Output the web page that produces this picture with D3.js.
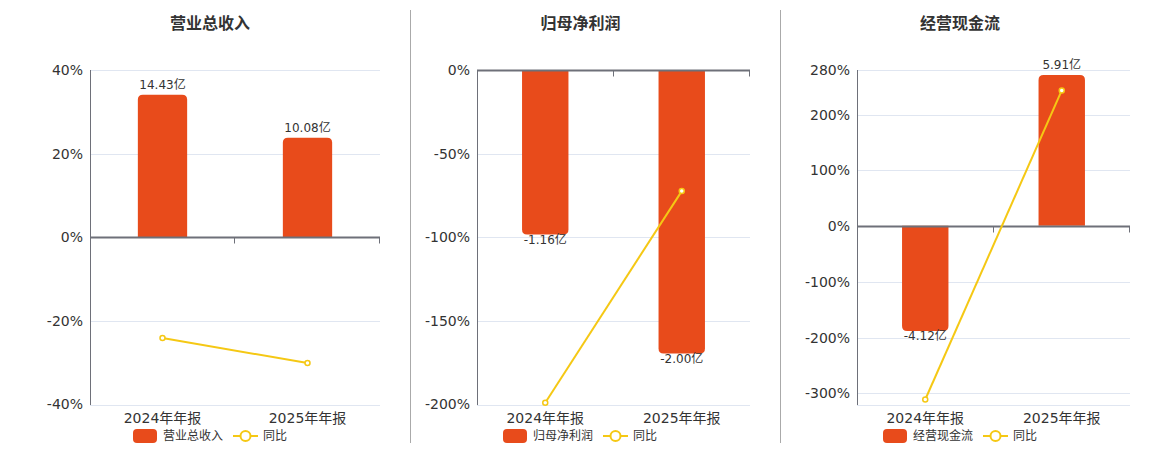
<!DOCTYPE html>
<html>
<head>
<meta charset="utf-8">
<script src="https://cdn.jsdelivr.net/npm/d3@7/dist/d3.min.js"></script>
<style>
  html, body { margin: 0; padding: 0; background: #fff; }
  svg { display: block; font-family: "DejaVu Sans", "Noto Sans CJK SC", sans-serif; }
</style>
</head>
<body>
<svg id="chart" width="1160" height="450"></svg>
<script>
// ---------- DATA ----------
const categories = ["2024年年报", "2025年年报"];

const titles = ["营业总收入", "归母净利润", "经营现金流"];
const yoyName = "同比";

const revenueValues = [14.43, 10.08];       // 亿
const revenueYoY = [-24.1, -30.1];          // %
const profitValues = [-1.16, -2.00];        // 亿
const profitYoY = [-199.0, -72.4];          // %
const cashValues = [-4.12, 5.91];           // 亿
const cashYoY = [-311.0, 243.4];            // %

const revenueTicks = [-40, -20, 0, 20, 40];
const profitTicks = [-200, -150, -100, -50, 0];
const cashTicks = [-300, -200, -100, 0, 100, 200, 280];

const revenuePctDomain = [-40, 40];
const profitPctDomain = [-200, 0];
const cashPctDomain = [-320, 280];

const revenueBarDomain = [-16.95, 16.95];
const profitBarDomain = [-2.36, 0];
const cashBarDomain = [-7.0, 6.106];

// ---------- LAYOUT ----------
const FONT = '"DejaVu Sans", "Noto Sans CJK SC", sans-serif';
const BAR_COLOR = "#E84B1B";
const LINE_COLOR = "#F5C814";
const AXIS_COLOR = "#6E7079";
const GRID_COLOR = "#E0E6F1";
const TEXT_COLOR = "#333";

const panels = [
  { title: titles[0], values: revenueValues, yoy: revenueYoY, ticks: revenueTicks,
    pctDomain: revenuePctDomain, barDomain: revenueBarDomain,
    left: 90, right: 380, titleX: 210, legendX: 133 },
  { title: titles[1], values: profitValues, yoy: profitYoY, ticks: profitTicks,
    pctDomain: profitPctDomain, barDomain: profitBarDomain,
    left: 477, right: 750, titleX: 580.5, legendX: 503 },
  { title: titles[2], values: cashValues, yoy: cashYoY, ticks: cashTicks,
    pctDomain: cashPctDomain, barDomain: cashBarDomain,
    left: 857, right: 1130, titleX: 960, legendX: 883 }
];

const TOP = 70, BOTTOM = 404.5;

const svg = d3.select("#chart");

// separators
[410.5, 780.5].forEach(x => {
  svg.append("line").attr("x1", x).attr("x2", x).attr("y1", 10).attr("y2", 443)
    .attr("stroke", "#aaa").attr("stroke-width", 1);
});

function roundedBarPath(x, w, y0, y1, r) {
  const h = Math.abs(y1 - y0);
  r = Math.min(r, h, w / 2);
  if (y1 < y0) {
    return `M${x},${y0} L${x},${y1 + r} Q${x},${y1} ${x + r},${y1} L${x + w - r},${y1} Q${x + w},${y1} ${x + w},${y1 + r} L${x + w},${y0} Z`;
  } else {
    return `M${x},${y0} L${x},${y1 - r} Q${x},${y1} ${x + r},${y1} L${x + w - r},${y1} Q${x + w},${y1} ${x + w},${y1 - r} L${x + w},${y0} Z`;
  }
}

panels.forEach(p => {
  const g = svg.append("g");

  const x = d3.scaleBand().domain(categories).range([p.left, p.right]).paddingInner(0).paddingOuter(0);
  const yPct = d3.scaleLinear().domain(p.pctDomain).range([BOTTOM, TOP]);
  const yBar = d3.scaleLinear().domain(p.barDomain).range([BOTTOM, TOP]);

  // title
  g.append("text").attr("x", p.titleX).attr("y", 29).attr("text-anchor", "middle")
    .attr("font-size", 16).attr("font-weight", "bold").attr("fill", TEXT_COLOR)
    .text(p.title);

  // grid lines
  const gridVals = p.ticks.slice();
  if (!gridVals.includes(p.pctDomain[0])) gridVals.push(p.pctDomain[0]);
  g.selectAll(".grid").data(gridVals.filter(v => v !== 0)).enter().append("line")
    .attr("x1", p.left).attr("x2", p.right)
    .attr("y1", d => Math.round(yPct(d)) + 0.5).attr("y2", d => Math.round(yPct(d)) + 0.5)
    .attr("stroke", GRID_COLOR).attr("stroke-width", 1);

  // y axis labels via d3 axis
  const yAxis = d3.axisLeft(yPct).tickValues(p.ticks).tickSize(0).tickPadding(7)
    .tickFormat(d => d + "%");
  const ya = g.append("g").attr("transform", `translate(${p.left},0)`).call(yAxis);
  ya.attr("font-family", FONT).attr("font-size", 14);
  ya.select(".domain").remove();
  ya.selectAll("text").attr("font-size", 14).attr("fill", TEXT_COLOR).attr("font-family", FONT);

  // left axis line
  g.append("line").attr("x1", p.left + 0.5).attr("x2", p.left + 0.5)
    .attr("y1", TOP).attr("y2", BOTTOM + 0.5).attr("stroke", AXIS_COLOR).attr("stroke-width", 1);

  // bars
  const bw = x.bandwidth() * 0.34;
  const y0 = yBar(0);
  g.selectAll(".bar").data(p.values).enter().append("path")
    .attr("d", (d, i) => {
      const cx = x(categories[i]) + x.bandwidth() / 2;
      return roundedBarPath(cx - bw / 2, bw, y0, yBar(d), 5);
    })
    .attr("fill", BAR_COLOR);

  // bar labels
  g.selectAll(".blabel").data(p.values).enter().append("text")
    .attr("x", (d, i) => x(categories[i]) + x.bandwidth() / 2)
    .attr("y", d => d >= 0 ? yBar(d) - 6 : yBar(d) + 9.5)
    .attr("text-anchor", "middle").attr("font-size", 12).attr("fill", TEXT_COLOR)
    .attr("font-family", FONT)
    .text(d => d.toFixed(2) + "亿");

  // zero axis line (category axis) with ticks
  const zy = Math.round(yPct(0)) + 0.5;
  g.append("line").attr("x1", p.left).attr("x2", p.right).attr("y1", zy).attr("y2", zy)
    .attr("stroke", AXIS_COLOR).attr("stroke-width", 2);
  const tickXs = [x(categories[1]), p.right];
  g.selectAll(".xt").data(tickXs).enter().append("line")
    .attr("x1", d => Math.round(d) - 0.5).attr("x2", d => Math.round(d) - 0.5)
    .attr("y1", zy).attr("y2", zy + 6).attr("stroke", AXIS_COLOR).attr("stroke-width", 1);

  // x category labels via d3 axis (placed below plot)
  const xAxis = d3.axisBottom(x).tickSize(0).tickPadding(0);
  const xa = g.append("g").attr("transform", `translate(0,${BOTTOM + 9})`).call(xAxis);
  xa.attr("font-family", FONT).attr("font-size", 14);
  xa.select(".domain").remove();
  xa.selectAll("text").attr("font-size", 14).attr("fill", TEXT_COLOR)
    .attr("font-family", FONT).attr("dy", "0.71em").attr("y", 0);

  // yoy line
  const line = d3.line()
    .x((d, i) => x(categories[i]) + x.bandwidth() / 2)
    .y(d => yPct(d));
  g.append("path").datum(p.yoy).attr("d", line).attr("fill", "none")
    .attr("stroke", LINE_COLOR).attr("stroke-width", 2);
  g.selectAll(".pt").data(p.yoy).enter().append("circle")
    .attr("cx", (d, i) => x(categories[i]) + x.bandwidth() / 2)
    .attr("cy", d => yPct(d)).attr("r", 2.5)
    .attr("fill", "#fff").attr("stroke", LINE_COLOR).attr("stroke-width", 1.5);

  // legend
  const lx = p.legendX, ly = 436;
  g.append("rect").attr("x", lx).attr("y", ly - 7).attr("width", 24).attr("height", 14)
    .attr("rx", 4).attr("fill", BAR_COLOR);
  g.append("text").attr("x", lx + 30).attr("y", ly).attr("dy", "0.35em")
    .attr("font-size", 12).attr("fill", TEXT_COLOR).attr("font-family", FONT).text(p.title);
  const l2 = lx + 100;
  g.append("line").attr("x1", l2).attr("x2", l2 + 25).attr("y1", ly).attr("y2", ly)
    .attr("stroke", LINE_COLOR).attr("stroke-width", 2);
  g.append("circle").attr("cx", l2 + 12.5).attr("cy", ly).attr("r", 5)
    .attr("fill", "#fff").attr("stroke", LINE_COLOR).attr("stroke-width", 2);
  g.append("text").attr("x", l2 + 30).attr("y", ly).attr("dy", "0.35em")
    .attr("font-size", 12).attr("fill", TEXT_COLOR).attr("font-family", FONT).text(yoyName);
});
</script>
</body>
</html>
